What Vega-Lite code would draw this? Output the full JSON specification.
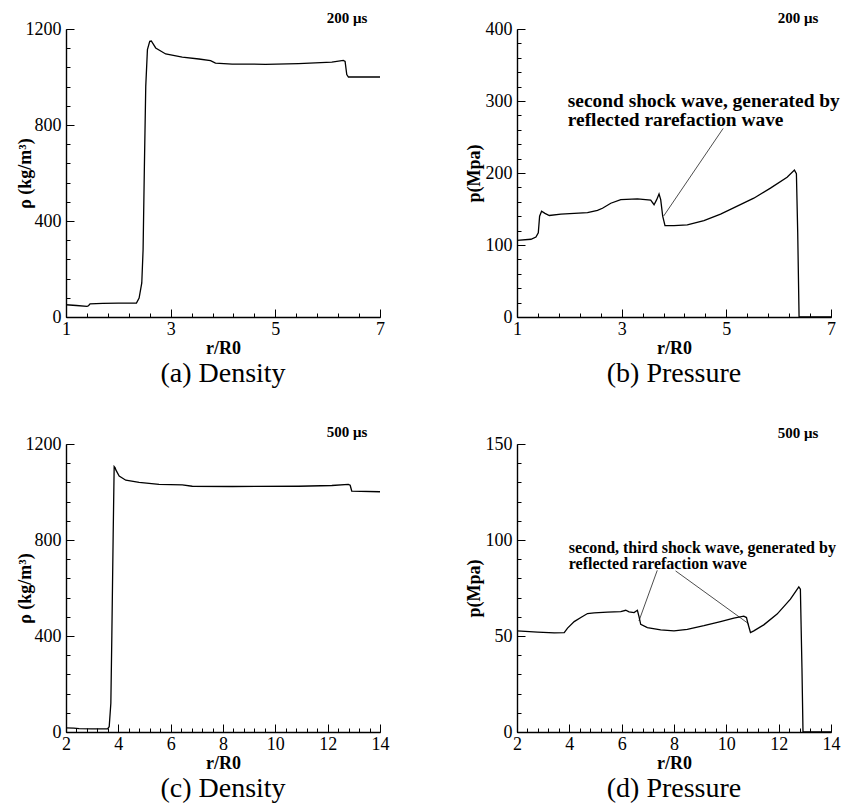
{
  "$schema": "https://vega.github.io/schema/vega-lite/v6.json",
  "background": "white",
  "padding": {"left": 16, "top": 11, "right": 5, "bottom": 5},
  "config": {
    "view": {"stroke": null},
    "font": "Liberation Serif",
    "axis": {
      "grid": false,
      "domainColor": "black",
      "domainWidth": 1.4,
      "tickColor": "black",
      "tickWidth": 1,
      "labelColor": "black",
      "titleColor": "black",
      "labelFont": "Liberation Serif",
      "labelFontSize": 18,
      "titleFont": "Liberation Serif",
      "titleFontSize": 18,
      "titleFontWeight": "bold",
      "labelFlush": false,
      "labelOverlap": false,
      "labelBound": false
    },
    "axisBottom": {"ticks": false, "tickSize": 0, "labelPadding": 3, "titleY": 31, "titleBaseline": "middle"},
    "axisLeft": {"ticks": false, "tickSize": 0, "labelPadding": 5, "titleBaseline": "middle"},
    "axisTop": {"domain": false, "labels": false, "ticks": true},
    "axisRight": {"domain": false, "labels": false, "ticks": true},
    "title": {"font": "Liberation Serif", "fontSize": 28, "fontWeight": "normal", "color": "black", "orient": "bottom", "anchor": "middle", "offset": 3}
  },
  "datasets": {
    "a": [
      {"r": 1.0, "v": 51}, {"r": 1.2, "v": 48}, {"r": 1.4, "v": 44}, {"r": 1.43, "v": 47}, {"r": 1.46, "v": 55},
      {"r": 1.7, "v": 57}, {"r": 2.0, "v": 58}, {"r": 2.346, "v": 58}, {"r": 2.397, "v": 79}, {"r": 2.448, "v": 142},
      {"r": 2.473, "v": 280}, {"r": 2.498, "v": 628}, {"r": 2.524, "v": 961}, {"r": 2.556, "v": 1114}, {"r": 2.6, "v": 1149},
      {"r": 2.63, "v": 1150}, {"r": 2.714, "v": 1121}, {"r": 2.905, "v": 1096}, {"r": 3.222, "v": 1083}, {"r": 3.54, "v": 1075},
      {"r": 3.762, "v": 1068}, {"r": 3.857, "v": 1058}, {"r": 4.175, "v": 1054}, {"r": 4.81, "v": 1053}, {"r": 5.444, "v": 1056},
      {"r": 6.079, "v": 1062}, {"r": 6.3, "v": 1069}, {"r": 6.333, "v": 1065}, {"r": 6.365, "v": 1010}, {"r": 6.397, "v": 1000},
      {"r": 7.0, "v": 1000}
    ],
    "b": [
      {"r": 1.0, "v": 106.5}, {"r": 1.267, "v": 108}, {"r": 1.362, "v": 111}, {"r": 1.407, "v": 117}, {"r": 1.432, "v": 140},
      {"r": 1.47, "v": 147}, {"r": 1.534, "v": 144}, {"r": 1.617, "v": 141}, {"r": 1.839, "v": 143}, {"r": 2.347, "v": 145},
      {"r": 2.538, "v": 148}, {"r": 2.633, "v": 151}, {"r": 2.792, "v": 158}, {"r": 2.983, "v": 163}, {"r": 3.301, "v": 164},
      {"r": 3.555, "v": 162.5}, {"r": 3.619, "v": 156}, {"r": 3.669, "v": 163}, {"r": 3.714, "v": 171}, {"r": 3.746, "v": 163},
      {"r": 3.784, "v": 140}, {"r": 3.828, "v": 127}, {"r": 4.0, "v": 127}, {"r": 4.254, "v": 128}, {"r": 4.572, "v": 134},
      {"r": 4.89, "v": 143}, {"r": 5.208, "v": 154}, {"r": 5.525, "v": 165}, {"r": 5.843, "v": 179}, {"r": 6.161, "v": 194},
      {"r": 6.301, "v": 204}, {"r": 6.339, "v": 199}, {"r": 6.364, "v": 117}, {"r": 6.39, "v": 0}, {"r": 7.0, "v": 0}
    ],
    "c": [
      {"r": 2.0, "v": 17}, {"r": 2.3, "v": 16}, {"r": 2.5, "v": 14}, {"r": 3.0, "v": 13}, {"r": 3.588, "v": 13},
      {"r": 3.651, "v": 22}, {"r": 3.714, "v": 120}, {"r": 3.752, "v": 401}, {"r": 3.803, "v": 824}, {"r": 3.841, "v": 1106},
      {"r": 3.879, "v": 1101}, {"r": 3.905, "v": 1092}, {"r": 4.032, "v": 1066}, {"r": 4.286, "v": 1049}, {"r": 4.794, "v": 1040},
      {"r": 5.556, "v": 1032}, {"r": 6.444, "v": 1030}, {"r": 6.825, "v": 1024}, {"r": 8.35, "v": 1023}, {"r": 10.89, "v": 1024},
      {"r": 12.16, "v": 1027}, {"r": 12.79, "v": 1032}, {"r": 12.86, "v": 1028}, {"r": 12.92, "v": 1004}, {"r": 14.0, "v": 1001}
    ],
    "d": [
      {"r": 2.0, "v": 52.7}, {"r": 2.788, "v": 52.0}, {"r": 3.424, "v": 51.6}, {"r": 3.805, "v": 51.8}, {"r": 3.932, "v": 54.1},
      {"r": 4.186, "v": 57.5}, {"r": 4.44, "v": 59.6}, {"r": 4.695, "v": 61.7}, {"r": 4.949, "v": 62.0}, {"r": 5.457, "v": 62.4},
      {"r": 5.966, "v": 62.7}, {"r": 6.156, "v": 63.4}, {"r": 6.283, "v": 62.6}, {"r": 6.474, "v": 62.2}, {"r": 6.601, "v": 63.4},
      {"r": 6.665, "v": 60.0}, {"r": 6.728, "v": 56.1}, {"r": 6.982, "v": 54.4}, {"r": 7.491, "v": 53.2}, {"r": 7.999, "v": 52.7},
      {"r": 8.507, "v": 53.5}, {"r": 9.143, "v": 55.4}, {"r": 9.778, "v": 57.5}, {"r": 10.287, "v": 59.3}, {"r": 10.668, "v": 60.3},
      {"r": 10.77, "v": 59.6}, {"r": 10.833, "v": 56.1}, {"r": 10.922, "v": 51.8}, {"r": 11.05, "v": 52.7}, {"r": 11.43, "v": 55.8},
      {"r": 11.94, "v": 61.4}, {"r": 12.45, "v": 69.2}, {"r": 12.77, "v": 75.6}, {"r": 12.83, "v": 74.4}, {"r": 12.89, "v": 33.5},
      {"r": 12.93, "v": 0}, {"r": 14.0, "v": 0}
    ]
  },
  "columns": 2,
  "spacing": {"row": 127, "column": 137},
  "bounds": "flush",
  "concat": [
    {
      "width": 314, "height": 288,
      "title": {"text": "(a) Density"},
      "resolve": {"scale": {"x": "independent", "y": "independent"}, "axis": {"x": "independent", "y": "independent"}},
      "layer": [
        {
          "data": {"name": "a"},
          "mark": {"type": "line", "color": "black", "strokeWidth": 1.3},
          "encoding": {
            "x": {"field": "r", "type": "quantitative", "scale": {"domain": [1, 7], "nice": false, "zero": false},
              "axis": {"orient": "bottom", "title": "r/R0", "values": [1, 3, 5, 7], "format": "d"}},
            "y": {"field": "v", "type": "quantitative", "scale": {"domain": [0, 1200], "nice": false},
              "axis": {"orient": "left", "title": "ρ (kg/m³)", "values": [0, 400, 800, 1200], "format": "d", "titleX": -41}}
          }
        },
        {
          "data": {"values": [{}]},
          "mark": {"type": "text", "text": "200 μs", "fontWeight": "bold", "fontSize": 15, "dy": -11, "color": "black"},
          "encoding": {
            "x": {"datum": 6.37, "type": "quantitative", "scale": {"domain": [1, 7], "nice": false, "zero": false},
              "axis": {"orient": "top", "offset": -288, "title": null, "tickSize": 4, "values": [1, 1.4, 1.8, 2.2, 2.6, 3, 3.4, 3.8, 4.2, 4.6, 5, 5.4, 5.8, 6.2, 6.6, 7]}},
            "y": {"datum": 1200, "type": "quantitative", "scale": {"domain": [0, 1200], "nice": false},
              "axis": {"orient": "right", "offset": -314, "title": null, "tickSize": 4, "values": [0, 80, 160, 240, 320, 400, 480, 560, 640, 720, 800, 880, 960, 1040, 1120, 1200]}}
          }
        },
        {
          "data": {"name": "a"},
          "mark": {"type": "line", "opacity": 0},
          "encoding": {
            "x": {"field": "r", "type": "quantitative", "scale": {"domain": [1, 7], "nice": false, "zero": false},
              "axis": {"orient": "top", "offset": -288, "title": null, "tickSize": 8, "values": [1, 3, 5, 7]}},
            "y": {"field": "v", "type": "quantitative", "scale": {"domain": [0, 1200], "nice": false},
              "axis": {"orient": "right", "offset": -314, "title": null, "tickSize": 8, "values": [0, 400, 800, 1200]}}
          }
        }
      ]
    },
    {
      "width": 314, "height": 288,
      "title": {"text": "(b) Pressure"},
      "resolve": {"scale": {"x": "independent", "y": "independent"}, "axis": {"x": "independent", "y": "independent"}},
      "layer": [
        {
          "data": {"name": "b"},
          "mark": {"type": "line", "color": "black", "strokeWidth": 1.3},
          "encoding": {
            "x": {"field": "r", "type": "quantitative", "scale": {"domain": [1, 7], "nice": false, "zero": false},
              "axis": {"orient": "bottom", "title": "r/R0", "values": [1, 3, 5, 7], "format": "d"}},
            "y": {"field": "v", "type": "quantitative", "scale": {"domain": [0, 400], "nice": false},
              "axis": {"orient": "left", "title": "p(Mpa)", "values": [0, 100, 200, 300, 400], "format": "d", "titleX": -43}}
          }
        },
        {
          "data": {"values": [{}]},
          "mark": {"type": "text", "text": "200 μs", "fontWeight": "bold", "fontSize": 15, "dy": -11, "color": "black"},
          "encoding": {
            "x": {"datum": 6.37, "type": "quantitative", "scale": {"domain": [1, 7], "nice": false, "zero": false},
              "axis": {"orient": "top", "offset": -288, "title": null, "tickSize": 4, "values": [1, 1.4, 1.8, 2.2, 2.6, 3, 3.4, 3.8, 4.2, 4.6, 5, 5.4, 5.8, 6.2, 6.6, 7]}},
            "y": {"datum": 400, "type": "quantitative", "scale": {"domain": [0, 400], "nice": false},
              "axis": {"orient": "right", "offset": -314, "title": null, "tickSize": 4, "values": [0, 20, 40, 60, 80, 100, 120, 140, 160, 180, 200, 220, 240, 260, 280, 300, 320, 340, 360, 380, 400]}}
          }
        },
        {
          "data": {"values": [{}]},
          "mark": {"type": "text", "text": ["second shock wave, generated by", "reflected rarefaction wave"], "fontWeight": "bold", "fontSize": 19.4, "lineHeight": 19, "align": "left", "baseline": "top", "color": "black"},
          "encoding": {
            "x": {"datum": 1.97, "type": "quantitative", "scale": {"domain": [1, 7], "nice": false, "zero": false},
              "axis": {"orient": "top", "offset": -288, "title": null, "tickSize": 8, "values": [1, 3, 5, 7]}},
            "y": {"datum": 312, "type": "quantitative", "scale": {"domain": [0, 400], "nice": false},
              "axis": {"orient": "right", "offset": -314, "title": null, "tickSize": 8, "values": [0, 100, 200, 300, 400]}}
          }
        },
        {
          "data": {"values": [{}]},
          "mark": {"type": "rule", "color": "black", "strokeWidth": 0.7},
          "encoding": {
            "x": {"datum": 4.94, "type": "quantitative", "scale": {"domain": [1, 7], "nice": false, "zero": false}, "axis": null},
            "y": {"datum": 262, "type": "quantitative", "scale": {"domain": [0, 400], "nice": false}, "axis": null},
            "x2": {"datum": 3.8}, "y2": {"datum": 140}
          }
        }
      ]
    },
    {
      "width": 314, "height": 288,
      "title": {"text": "(c) Density"},
      "resolve": {"scale": {"x": "independent", "y": "independent"}, "axis": {"x": "independent", "y": "independent"}},
      "layer": [
        {
          "data": {"name": "c"},
          "mark": {"type": "line", "color": "black", "strokeWidth": 1.3},
          "encoding": {
            "x": {"field": "r", "type": "quantitative", "scale": {"domain": [2, 14], "nice": false, "zero": false},
              "axis": {"orient": "bottom", "title": "r/R0", "values": [2, 4, 6, 8, 10, 12, 14], "format": "d"}},
            "y": {"field": "v", "type": "quantitative", "scale": {"domain": [0, 1200], "nice": false},
              "axis": {"orient": "left", "title": "ρ (kg/m³)", "values": [0, 400, 800, 1200], "format": "d", "titleX": -41}}
          }
        },
        {
          "data": {"values": [{}]},
          "mark": {"type": "text", "text": "500 μs", "fontWeight": "bold", "fontSize": 15, "dy": -12, "color": "black"},
          "encoding": {
            "x": {"datum": 12.74, "type": "quantitative", "scale": {"domain": [2, 14], "nice": false, "zero": false},
              "axis": {"orient": "top", "offset": -288, "title": null, "tickSize": 4, "values": [2, 2.4, 2.8, 3.2, 3.6, 4, 4.4, 4.8, 5.2, 5.6, 6, 6.4, 6.8, 7.2, 7.6, 8, 8.4, 8.8, 9.2, 9.6, 10, 10.4, 10.8, 11.2, 11.6, 12, 12.4, 12.8, 13.2, 13.6, 14]}},
            "y": {"datum": 1200, "type": "quantitative", "scale": {"domain": [0, 1200], "nice": false},
              "axis": {"orient": "right", "offset": -314, "title": null, "tickSize": 4, "values": [0, 80, 160, 240, 320, 400, 480, 560, 640, 720, 800, 880, 960, 1040, 1120, 1200]}}
          }
        },
        {
          "data": {"name": "c"},
          "mark": {"type": "line", "opacity": 0},
          "encoding": {
            "x": {"field": "r", "type": "quantitative", "scale": {"domain": [2, 14], "nice": false, "zero": false},
              "axis": {"orient": "top", "offset": -288, "title": null, "tickSize": 8, "values": [2, 4, 6, 8, 10, 12, 14]}},
            "y": {"field": "v", "type": "quantitative", "scale": {"domain": [0, 1200], "nice": false},
              "axis": {"orient": "right", "offset": -314, "title": null, "tickSize": 8, "values": [0, 400, 800, 1200]}}
          }
        }
      ]
    },
    {
      "width": 314, "height": 288,
      "title": {"text": "(d) Pressure"},
      "resolve": {"scale": {"x": "independent", "y": "independent"}, "axis": {"x": "independent", "y": "independent"}},
      "layer": [
        {
          "data": {"name": "d"},
          "mark": {"type": "line", "color": "black", "strokeWidth": 1.3},
          "encoding": {
            "x": {"field": "r", "type": "quantitative", "scale": {"domain": [2, 14], "nice": false, "zero": false},
              "axis": {"orient": "bottom", "title": "r/R0", "values": [2, 4, 6, 8, 10, 12, 14], "format": "d"}},
            "y": {"field": "v", "type": "quantitative", "scale": {"domain": [0, 150], "nice": false},
              "axis": {"orient": "left", "title": "p(Mpa)", "values": [0, 50, 100, 150], "format": "d", "titleX": -43}}
          }
        },
        {
          "data": {"values": [{}]},
          "mark": {"type": "text", "text": "500 μs", "fontWeight": "bold", "fontSize": 15, "dy": -11, "color": "black"},
          "encoding": {
            "x": {"datum": 12.74, "type": "quantitative", "scale": {"domain": [2, 14], "nice": false, "zero": false},
              "axis": {"orient": "top", "offset": -288, "title": null, "tickSize": 4, "values": [2, 2.4, 2.8, 3.2, 3.6, 4, 4.4, 4.8, 5.2, 5.6, 6, 6.4, 6.8, 7.2, 7.6, 8, 8.4, 8.8, 9.2, 9.6, 10, 10.4, 10.8, 11.2, 11.6, 12, 12.4, 12.8, 13.2, 13.6, 14]}},
            "y": {"datum": 150, "type": "quantitative", "scale": {"domain": [0, 150], "nice": false},
              "axis": {"orient": "right", "offset": -314, "title": null, "tickSize": 4, "values": [0, 10, 20, 30, 40, 50, 60, 70, 80, 90, 100, 110, 120, 130, 140, 150]}}
          }
        },
        {
          "data": {"values": [{}]},
          "mark": {"type": "text", "text": ["second, third shock wave, generated by", "reflected rarefaction wave"], "fontWeight": "bold", "fontSize": 16, "lineHeight": 16, "align": "left", "baseline": "top", "color": "black"},
          "encoding": {
            "x": {"datum": 3.98, "type": "quantitative", "scale": {"domain": [2, 14], "nice": false, "zero": false},
              "axis": {"orient": "top", "offset": -288, "title": null, "tickSize": 8, "values": [2, 4, 6, 8, 10, 12, 14]}},
            "y": {"datum": 100, "type": "quantitative", "scale": {"domain": [0, 150], "nice": false},
              "axis": {"orient": "right", "offset": -314, "title": null, "tickSize": 8, "values": [0, 50, 100, 150]}}
          }
        },
        {
          "data": {"values": [{}]},
          "mark": {"type": "rule", "color": "black", "strokeWidth": 0.7},
          "encoding": {
            "x": {"datum": 7.36, "type": "quantitative", "scale": {"domain": [2, 14], "nice": false, "zero": false}, "axis": null},
            "y": {"datum": 84.2, "type": "quantitative", "scale": {"domain": [0, 150], "nice": false}, "axis": null},
            "x2": {"datum": 6.66}, "y2": {"datum": 57.8}
          }
        },
        {
          "data": {"values": [{}]},
          "mark": {"type": "rule", "color": "black", "strokeWidth": 0.7},
          "encoding": {
            "x": {"datum": 8.06, "type": "quantitative", "scale": {"domain": [2, 14], "nice": false, "zero": false}, "axis": null},
            "y": {"datum": 83.9, "type": "quantitative", "scale": {"domain": [0, 150], "nice": false}, "axis": null},
            "x2": {"datum": 10.85}, "y2": {"datum": 56.4}
          }
        }
      ]
    }
  ]
}
